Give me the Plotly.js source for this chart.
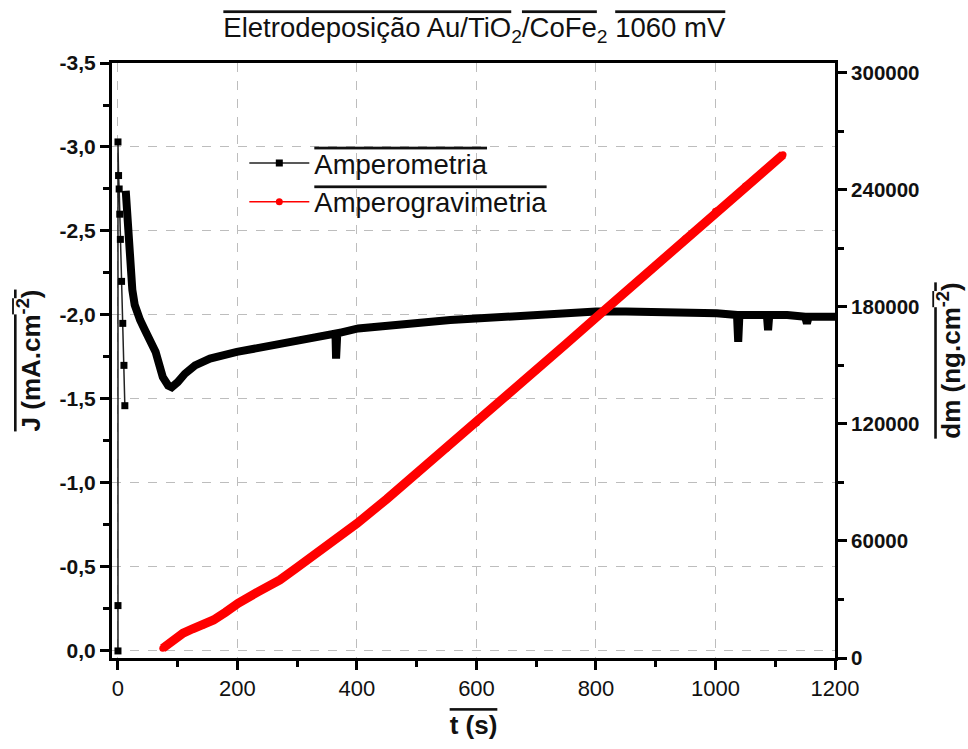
<!DOCTYPE html>
<html>
<head>
<meta charset="utf-8">
<script src="https://cdn.plot.ly/plotly-3.0.1.min.js"></script>
<style>html,body{margin:0;padding:0;background:#fff;}#chart{width:968px;height:749px;}</style>
</head>
<body>
<div id="chart"></div>
<script>
// Amperometria: initial transient (thin line with square markers)
const timeSpike = [0, 0, 0, 1, 2, 3, 4, 6, 8, 10, 11.5];
const jSpike = [0.0, -0.27, -3.03, -2.83, -2.75, -2.6, -2.45, -2.2, -1.95, -1.7, -1.46];
// Amperometria: main curve
const timeMain = [13,15,17,20,24,28,33,37,45,50,54,59,63,67,75,84,90,100,112,129,154,199,254,305,355,364,365,367,402,455,500,556,606,650,700,750,800,850,890,950,1002,1036,1038,1040,1086,1088,1090,1120,1150,1153,1156,1200];
const jMain = [-2.74,-2.6,-2.42,-2.28,-2.15,-2.06,-2.0,-1.97,-1.91,-1.88,-1.85,-1.82,-1.78,-1.73,-1.63,-1.58,-1.57,-1.60,-1.65,-1.70,-1.74,-1.78,-1.82,-1.85,-1.89,-1.89,-1.74,-1.89,-1.92,-1.94,-1.96,-1.97,-1.98,-1.99,-2.0,-2.01,-2.02,-2.02,-2.02,-2.01,-2.01,-2.0,-1.84,-2.0,-2.0,-1.91,-2.0,-2.0,-1.99,-1.95,-1.99,-1.99];
// Amperogravimetria
const timeRed = [75,90,109,125,143,160,180,201,235,271,300,350,400,450,500,550,600,650,700,750,800,850,900,950,1000,1050,1113];
const dmRed = [5000,8500,12700,15000,16900,19500,23500,28050,34000,40000,46500,57500,69000,81500,94500,107500,120500,134000,147500,161000,174500,188000,201500,215000,229000,242000,258000];
// Tick labels
const xTickVals = [0, 200, 400, 600, 800, 1000, 1200];
const xTickText = ['0', '200', '400', '600', '800', '1000', '1200'];
const jTickVals = [-3.5, -3.0, -2.5, -2.0, -1.5, -1.0, -0.5, 0.0];
const jTickText = ['-3,5', '-3,0', '-2,5', '-2,0', '-1,5', '-1,0', '-0,5', '0,0'];
const dmTickVals = [0, 60000, 120000, 180000, 240000, 300000];
const dmTickText = ['0', '60000', '120000', '180000', '240000', '300000'];

const OL = s => '<span style="text-decoration:overline">' + s + '</span>';

const traces = [
  {x: timeMain, y: jMain, type: 'scatter', mode: 'lines', showlegend: false,
   line: {color: '#000', width: 8}, xaxis: 'x', yaxis: 'y'},
  {x: timeSpike, y: jSpike, type: 'scatter', mode: 'lines+markers', name: OL('Amperometria'),
   line: {color: '#222', width: 1.5},
   marker: {symbol: 'square', size: 7, color: '#000'}, xaxis: 'x', yaxis: 'y'},
  {x: timeRed, y: dmRed, type: 'scatter', mode: 'lines', showlegend: false,
   line: {color: '#ff0000', width: 9}, xaxis: 'x', yaxis: 'y2'},
  {x: timeRed, y: dmRed, type: 'scatter', mode: 'lines+markers', name: OL('Amperogravimetria'),
   line: {color: '#ff0000', width: 1.5},
   marker: {symbol: 'circle', size: 7, color: '#ff0000'}, xaxis: 'x', yaxis: 'y2'}
];

const gridCol = '#bdbdbd';
const layout = {
  width: 968, height: 749,
  margin: {l: 112, r: 133, t: 63, b: 91},
  paper_bgcolor: '#fff', plot_bgcolor: '#fff',
  font: {family: 'Liberation Sans, Arial, sans-serif', color: '#000'},
  title: {text: OL('Eletrodeposição Au/TiO') + '<sub>2</sub>' + OL('/CoFe') + '<sub>2</sub> ' + OL('1060 mV'),
          font: {size: 27.5, color: '#111'}, x: 0.49, xanchor: 'center', y: 0.963, yanchor: 'middle'},
  showlegend: true,
  legend: {x: 0.183, y: 0.873, xanchor: 'left', yanchor: 'top', bgcolor: 'rgba(0,0,0,0)',
           font: {size: 27.5, color: '#111'}, itemwidth: 60, tracegroupgap: 0, traceorder: 'normal'},
  xaxis: {range: [-10, 1200], tickmode: 'array', tickvals: xTickVals, ticktext: xTickText,
          showline: true, linecolor: '#000', linewidth: 3, mirror: true,
          ticks: 'outside', ticklen: 9, tickwidth: 3, tickcolor: '#000',
          minor: {tickmode: 'linear', tick0: 100, dtick: 200, ticks: 'outside', ticklen: 6, tickwidth: 3, tickcolor: '#000', showgrid: false},
          showgrid: true, gridcolor: gridCol, griddash: 'dash', gridwidth: 1, zeroline: false,
          tickfont: {family: 'Liberation Sans Narrow, Arial Narrow, sans-serif', size: 22, color: '#111'},
          title: {text: OL('<b>t (s)</b>'), font: {size: 26, color: '#111'}, standoff: 16}},
  yaxis: {range: [0.042, -3.5], tickmode: 'array', tickvals: jTickVals, ticktext: jTickText,
          showline: true, linecolor: '#000', linewidth: 3, mirror: false,
          ticks: 'outside', ticklen: 9, tickwidth: 3, tickcolor: '#000',
          minor: {tickmode: 'linear', tick0: -0.25, dtick: 0.5, ticks: 'outside', ticklen: 6, tickwidth: 3, tickcolor: '#000', showgrid: false},
          showgrid: true, gridcolor: gridCol, griddash: 'dash', gridwidth: 1, zeroline: false,
          tickfont: {size: 21, color: '#111', weight: 'bold'},
          title: {text: OL('<b>J (mA.cm<sup>-2</sup>)</b>'), font: {size: 26, color: '#111'}, standoff: 12}},
  yaxis2: {range: [0, 305000], overlaying: 'y', side: 'right', tickmode: 'array', tickvals: dmTickVals, ticktext: dmTickText,
           showline: true, linecolor: '#000', linewidth: 3,
           ticks: 'outside', ticklen: 9, tickwidth: 3, tickcolor: '#000',
           minor: {tickmode: 'linear', tick0: 30000, dtick: 60000, ticks: 'outside', ticklen: 6, tickwidth: 3, tickcolor: '#000', showgrid: false},
           showgrid: false, zeroline: false,
           tickfont: {size: 20.5, color: '#111', weight: 'bold'},
           title: {text: OL('<b>dm (ng.cm<sup>-2</sup>)</b>'), font: {size: 26, color: '#111'}, standoff: 24}}
};

Plotly.newPlot('chart', traces, layout, {displayModeBar: false, responsive: false});
</script>
</body>
</html>
